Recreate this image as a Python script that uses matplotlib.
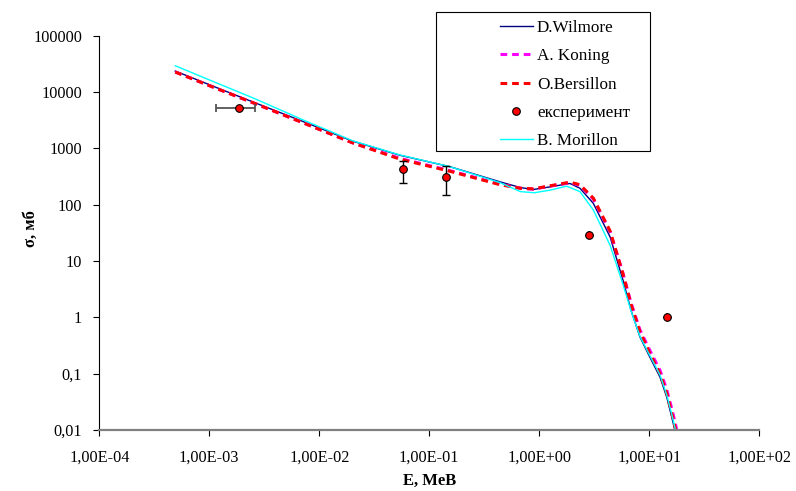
import matplotlib.pyplot as plt
from matplotlib.patches import Rectangle

plt.rcParams['font.family'] = ['Liberation Serif', 'DejaVu Serif']
plt.rcParams['font.size'] = 11.7

# D.Wilmore
e_wil = [4.9e-4, 1e-3, 2.5e-3, 7.2e-3, 0.02, 0.054, 0.154, 0.44, 0.67, 0.88, 1.25, 1.9, 2.34, 3.1,
         4.4, 5.77, 6.82, 8.22, 10.1, 12.5, 14.4, 16.0, 17.1, 17.5]
s_wil = [23400, 13400, 6600, 2950, 1340, 750, 470, 253, 201, 185, 206, 237, 195, 105,
         26.7, 4.54, 1.33, 0.447, 0.197, 0.087, 0.0384, 0.0169, 0.0098, 0.0082]

# A. Koning
e_kon = [4.9e-4, 1e-3, 2.5e-3, 7.2e-3, 0.02, 0.054, 0.154, 0.44, 0.67, 0.88, 1.25, 1.9, 2.34, 3.1,
         4.4, 5.77, 6.82, 8.22, 10.1, 12.5, 14.4, 16.0, 17.1, 17.5, 18.3]
s_kon = [22500, 12900, 6400, 2800, 1250, 660, 400, 230, 195, 188, 212, 245, 220, 125,
         33, 6.0, 1.8, 0.6, 0.26, 0.115, 0.052, 0.024, 0.014, 0.0115, 0.007]

# O.Bersillon
e_ber = [4.9e-4, 1e-3, 2.5e-3, 7.2e-3, 0.02, 0.054, 0.154, 0.44, 0.67, 0.88, 1.25, 1.9, 2.34, 3.1,
         4.4, 5.77, 6.82, 8.22, 10.1, 12.5, 14.4, 16.0, 17.1, 17.5, 18.0]
s_ber = [22500, 12900, 6400, 2800, 1250, 640, 390, 225, 195, 190, 215, 250, 225, 130,
         34, 5.8, 1.7, 0.55, 0.23, 0.1, 0.045, 0.02, 0.0115, 0.0095, 0.007]

# B. Morillon
e_mor = [4.9e-4, 1e-3, 2.5e-3, 7.2e-3, 0.02, 0.054, 0.154, 0.44, 0.67, 0.9, 1.25, 1.77, 2.34, 3.1,
         4.4, 5.77, 6.82, 8.22, 10.1, 12.5, 14.4, 16.0, 17.1, 17.5]
s_mor = [29100, 16300, 7800, 3150, 1360, 760, 470, 245, 170, 162, 180, 212, 170, 80,
         19, 3.8, 1.3, 0.46, 0.21, 0.095, 0.042, 0.019, 0.011, 0.009]

# експеримент
exp_e = [1.87e-3, 0.058, 0.142, 2.85, 14.4]
exp_s = [5150, 420, 307, 29.4, 1.0]
exp_e_lo = [1.15e-3, 0.058, 0.142, 2.85, 14.4]
exp_e_hi = [2.63e-3, 0.058, 0.142, 2.85, 14.4]
exp_s_lo = [5150, 243, 147, 29.4, 1.0]
exp_s_hi = [5150, 597, 481, 29.4, 1.0]

xticks = [1e-4, 1e-3, 1e-2, 1e-1, 1e0, 1e1, 1e2]
xlabels = ['1,00E-04', '1,00E-03', '1,00E-02', '1,00E-01', '1,00E+00', '1,00E+01', '1,00E+02']
yticks = [0.01, 0.1, 1, 10, 100, 1000, 10000, 100000]
ylabels = ['0,01', '0,1', '1', '10', '100', '1000', '10000', '100000']

fig = plt.figure(figsize=(7.96, 4.91), dpi=100)
ax = fig.add_axes([99.3 / 796, 1 - 430 / 491, 660 / 796, 394.5 / 491])

dash = (0, (2.2, 1.6))
l1, = ax.plot(e_wil, s_wil, color='#000080', lw=1.0, label='D.Wilmore')
l2, = ax.plot(e_kon, s_kon, color='#ff00ff', lw=2.2, ls=dash, label='A. Koning')
l3, = ax.plot(e_ber, s_ber, color='#ff0000', lw=2.2, ls=dash, label='O.Bersillon')
l5, = ax.plot(e_mor, s_mor, color='#00ffff', lw=1.0, label='B. Morillon')

xerr = [[e - lo for e, lo in zip(exp_e, exp_e_lo)], [hi - e for e, hi in zip(exp_e, exp_e_hi)]]
yerr = [[s - lo for s, lo in zip(exp_s, exp_s_lo)], [hi - s for s, hi in zip(exp_s, exp_s_hi)]]
ax.errorbar(exp_e, exp_s, xerr=xerr, fmt='none', ecolor='#555555', elinewidth=1.3, capsize=3, capthick=1.3)
ax.errorbar(exp_e, exp_s, yerr=yerr, fmt='none', ecolor='black', elinewidth=1.0, capsize=3, capthick=1.0)
l4, = ax.plot(exp_e, exp_s, ls='none', marker='o', ms=5.5, mfc='#ff0000', mec='black', mew=0.8,
              label='експеримент', zorder=5)

ax.set_xscale('log')
ax.set_yscale('log')
ax.set_xlim(1e-4, 1e2)
ax.set_ylim(0.01, 100000)
ax.set_xticks(xticks, xlabels)
ax.set_yticks(yticks, ylabels)
ax.minorticks_off()
ax.tick_params(axis='y', direction='out', length=4, width=0.8, pad=8.5)
ax.tick_params(axis='x', direction='out', length=4, width=0.8, pad=10)

ax.spines['top'].set_visible(False)
ax.spines['right'].set_visible(False)
ax.spines['left'].set_linewidth(0.8)
ax.spines['bottom'].set_color('#808080')
ax.spines['bottom'].set_linewidth(1.6)

ax.set_xlabel('E, MeB', fontweight='bold', fontsize=12)
ax.set_ylabel('σ, мб', fontweight='bold', fontsize=12)
ax.xaxis.set_label_coords(0.5, -0.108)
ax.yaxis.set_label_coords(-0.092, 0.51)

fig.patches.append(Rectangle((436 / 796, 1 - 151 / 491), 214 / 796, 139 / 491, transform=fig.transFigure,
                             facecolor='white', edgecolor='black', lw=0.8, zorder=2))
fig.legend(handles=[l1, l2, l3, l4, l5], loc='upper left', bbox_to_anchor=(500 / 796, 1 - 20 / 491),
           frameon=False, borderpad=0, borderaxespad=0, handlelength=1.93, handletextpad=0.23,
           labelspacing=0.72, fontsize=12.3)

fig.savefig('out.png', dpi=100)
